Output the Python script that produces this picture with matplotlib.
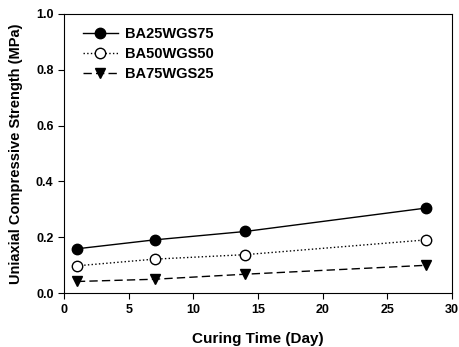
import numpy as np
import matplotlib.pyplot as plt

plt.rcParams['font.family'] = ['Liberation Sans', 'DejaVu Sans']

days = [1, 7, 14, 28]
ba25 = [0.159, 0.191, 0.221, 0.305]
ba50 = [0.098, 0.122, 0.138, 0.191]
ba75 = [0.042, 0.050, 0.068, 0.100]

fig = plt.figure(figsize=(4.6, 3.47), dpi=100)
ax = fig.add_axes([0.139, 0.155, 0.844, 0.805])

ax.plot(days, ba25, '-', color='black', lw=1, marker='o', ms=7.5,
        mfc='black', mec='black', label='BA25WGS75')
ax.plot(days, ba50, ':', color='black', lw=1, marker='o', ms=7.5,
        mfc='white', mec='black', label='BA50WGS50')
ax.plot(days, ba75, '--', color='black', lw=1, marker='v', ms=7.5,
        mfc='black', mec='black', label='BA75WGS25', dashes=(6, 3))

ax.set_xlim(0, 30)
ax.set_ylim(0, 1.0)
ax.set_xticks([0, 5, 10, 15, 20, 25, 30])
ax.set_yticks([0.0, 0.2, 0.4, 0.6, 0.8, 1.0])
ax.set_yticklabels(['0.0', '0.2', '0.4', '0.6', '0.8', '1.0'])
ax.tick_params(direction='out', length=4, labelsize=9)
for lab in ax.get_xticklabels() + ax.get_yticklabels():
    lab.set_fontweight('bold')
for s in ax.spines.values():
    s.set_linewidth(0.8)

ax.set_xlabel('Curing Time (Day)', fontsize=11, fontweight='bold', labelpad=12)
ax.set_ylabel('Uniaxial Compressive Strength (MPa)', fontsize=10.5,
              fontweight='bold', labelpad=9)

leg = ax.legend(loc='upper left', frameon=False,
                prop={'weight': 'bold', 'size': 10.5},
                handlelength=2.4, handletextpad=0.5,
                borderaxespad=0.5, labelspacing=0.4,
                bbox_to_anchor=(0.015, 1.0))

fig.savefig('out.png', dpi=100)
